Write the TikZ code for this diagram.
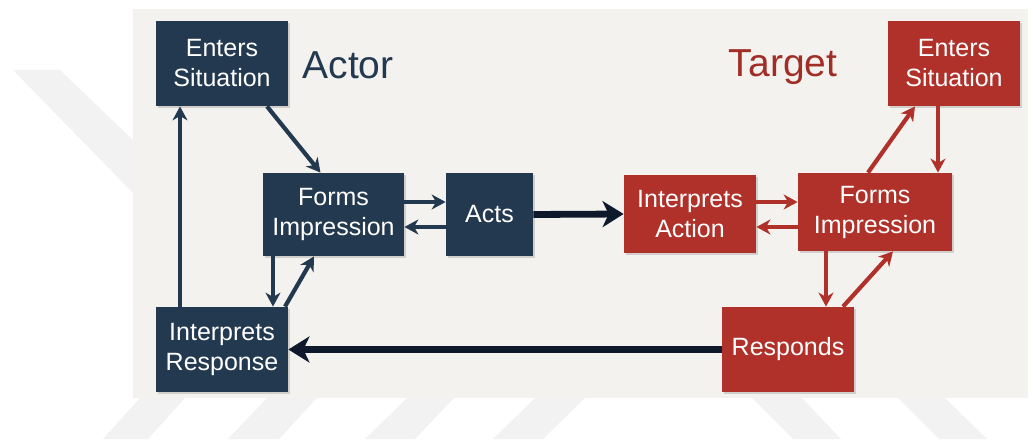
\documentclass[tikz,border=0pt]{standalone}
\usepackage{fontspec}
\setmainfont{Liberation Sans}
\usepackage{xcolor}
\definecolor{navy}{HTML}{233950}
\definecolor{brick}{HTML}{B0312A}
\definecolor{nightink}{HTML}{0E1A2C}
\definecolor{panel}{HTML}{F4F2EE}
\definecolor{stripe}{HTML}{F2F2F2}
\usetikzlibrary{positioning,arrows.meta,calc,shadows}
\tikzset{
  box/.style={align=center, text=white, font=\fontsize{12.5}{15}\selectfont, inner sep=2pt,
    drop shadow={shadow xshift=0.8pt, shadow yshift=-0.8pt, opacity=0.3}},
  actorbox/.style={box, fill=navy},
  targetbox/.style={box, fill=brick},
  wide/.style={minimum width=66pt, minimum height=42.5pt},
  heading/.style={font=\fontsize{19.5}{22}\selectfont},
  navylink/.style={-{Stealth[length=7pt, width=7.5pt, inset=2.2pt]}, navy, line width=2.1pt},
  bricklink/.style={-{Stealth[length=7pt, width=7.5pt, inset=2.2pt]}, brick, line width=2.1pt},
  mainlink/.style={-{Stealth[length=10.5pt, width=13pt, inset=3pt]}, nightink, line width=3.4pt},
}
\begin{document}
\begin{tikzpicture}[x=0.5pt, y=0.5pt]
  \useasboundingbox (0,0) rectangle (1033,439);
  % faint stripes behind the panel
  \fill[stripe] (13,369) -- (60,369) -- (133,299) -- (133,246) -- cycle;
  \fill[stripe] (140,41) -- (185,41) -- (148,0) -- (103,0) -- cycle;
  \fill[stripe] (267,41) -- (317,41) -- (279,0) -- (228,0) -- cycle;
  \fill[stripe] (407,41) -- (454,41) -- (415,0) -- (365,0) -- cycle;
  \fill[stripe] (535,41) -- (585,41) -- (543,0) -- (493,0) -- cycle;
  \fill[stripe] (752,41) -- (802,41) -- (841,0) -- (793,0) -- cycle;
  \fill[stripe] (898,41) -- (945,41) -- (987,0) -- (939,0) -- cycle;
  \fill[panel] (133,41) rectangle (1028,430);

  % actor side
  \node[actorbox, wide] (aes) at (222,375.5) {Enters\\Situation};
  \node[actorbox, minimum width=70.5pt, minimum height=41.5pt] (afi) at (333.5,224.5) {Forms\\Impression};
  \node[actorbox, minimum width=43.5pt, minimum height=41.5pt] (acts) at (489.5,224.5) {Acts};
  \node[actorbox, wide] (air) at (222,89.5) {Interprets\\Response};
  \node[heading, text=navy] (actorlbl) at (348,374) {Actor};

  % target side
  \node[targetbox, minimum width=66pt, minimum height=39pt] (tia) at (690,225) {Interprets\\Action};
  \node[targetbox, minimum width=77pt, minimum height=39pt] (tfi) at (875,227) {Forms\\Impression};
  \node[targetbox, wide] (tes) at (954,375.5) {Enters\\Situation};
  \node[targetbox, wide] (tre) at (788,89.5) {Responds};
  \node[heading, text=brick!92!black] (targetlbl) at (783,372) {Target};

  \draw[navylink] ($(aes.south)+(45,0)$) -- ($(afi.north)+(-13,0)$);
  \draw[navylink] ($(air.north)+(-42,0)$) -- ($(aes.south)+(-42,0)$);
  \draw[navylink] ($(afi.south)+(-60.5,0)$) -- ($(air.north)+(51,0)$);
  \draw[navylink] ($(air.north)+(63,0)$) -- ($(afi.south)+(-19.5,0)$);
  \draw[navylink] ($(afi.east)+(0,12.5)$) -- ($(acts.west)+(0,12.5)$);
  \draw[navylink] ($(acts.west)+(0,-12.5)$) -- ($(afi.east)+(0,-12.5)$);

  \draw[bricklink] (tia.east |- 0,237) -- (tfi.west |- 0,237);
  \draw[bricklink] (tfi.west |- 0,212) -- (tia.east |- 0,212);
  \draw[bricklink] ($(tfi.north)+(-7,0)$) -- ($(tes.south)+(-39,0)$);
  \draw[bricklink] ($(tes.south)+(-16,0)$) -- ($(tfi.north)+(63,0)$);
  \draw[bricklink] ($(tfi.south)+(-49,0)$) -- ($(tre.north)+(38,0)$);
  \draw[bricklink] ($(tre.north)+(55,0)$) -- ($(tfi.south)+(18,0)$);

  \draw[mainlink] (acts.east) -- (tia.west);
  \draw[mainlink] (tre.west) -- (air.east);
\end{tikzpicture}
\end{document}
